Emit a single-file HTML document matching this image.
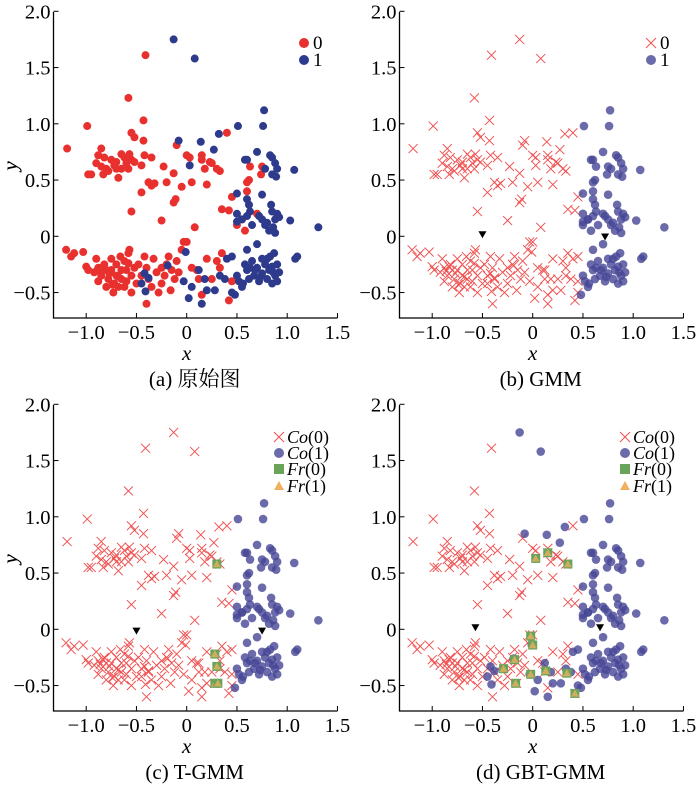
<!DOCTYPE html>
<html><head><meta charset="utf-8">
<style>
body{margin:0;background:#fff;}
svg, svg text{font-family:"Liberation Serif","Noto Serif CJK SC",serif;}
svg{display:block;}
</style></head>
<body>
<svg id="fig" width="700" height="786" viewBox="0 0 700 786" xmlns="http://www.w3.org/2000/svg" font-family="Liberation Serif, Noto Serif CJK SC, serif"></svg>
<script>
const xTicks=[-1.0,-0.5,0,0.5,1.0,1.5];
const xTickLabels=["\u22121.0","\u22120.5","0","0.5","1.0","1.5"];
const yTicks=[-0.5,0,0.5,1.0,1.5,2.0];
const yTickLabels=["\u22120.5","0","0.5","1.0","1.5","2.0"];
const class0X=[-0.41,-0.58,-0.99,-1.19,-0.43,-0.55,-0.52,-0.43,0.40,-0.10,-0.85,-0.88,-0.82,-0.90,-0.85,-0.80,-0.78,-0.95,-0.98,-0.83,-0.75,-0.70,-0.65,-0.62,-0.60,-0.57,-0.55,-0.52,-0.58,-0.65,-0.70,-0.68,-0.72,-0.45,-0.42,-0.35,-0.23,-0.20,-0.13,-0.38,-0.35,-0.32,-0.45,-0.13,-0.11,-0.05,-0.55,-0.25,0.00,0.03,0.05,0.15,0.18,0.20,0.15,0.25,0.23,0.30,0.33,0.35,0.42,0.45,0.60,0.62,0.60,0.63,0.75,0.74,0.55,0.50,0.58,0.70,0.08,0.00,-0.03,-1.20,-1.12,-1.15,-1.03,-1.00,-0.98,-0.90,-0.88,-0.85,-0.88,-0.82,-0.80,-0.78,-0.75,-0.75,-0.72,-0.70,-0.70,-0.68,-0.65,-0.65,-0.62,-0.60,-0.60,-0.58,-0.57,-0.55,-0.55,-0.52,-0.50,-0.48,-0.45,-0.42,-0.40,-0.38,-0.35,-0.33,-0.30,-0.28,-0.25,-0.25,-0.22,-0.20,-0.18,-0.16,-0.15,-0.12,-0.10,-0.08,-0.05,-0.40,-0.62,-0.80,-0.92,-0.73,-0.66,0.05,0.10,0.15,0.20,0.25,0.30,0.33,0.35,0.42,0.45,0.12,-0.77,-0.83,-0.68,-0.58,-0.86,-0.74];
const class0Y=[1.61,1.23,0.98,0.78,1.03,0.92,0.88,0.85,0.92,0.81,0.78,0.72,0.70,0.65,0.62,0.60,0.58,0.55,0.55,0.55,0.68,0.66,0.73,0.70,0.65,0.73,0.68,0.66,0.60,0.60,0.60,0.52,0.63,0.63,0.72,0.70,0.62,0.48,0.56,0.48,0.45,0.47,0.39,0.30,0.33,0.44,0.22,0.14,0.72,0.70,0.48,0.72,0.60,0.46,0.68,0.65,0.66,0.60,0.58,0.24,0.23,0.35,0.48,0.50,0.40,0.62,0.62,0.55,0.15,0.10,0.05,0.20,0.08,-0.05,-0.05,-0.12,-0.15,-0.18,-0.14,-0.27,-0.30,-0.20,-0.28,-0.35,-0.40,-0.25,-0.30,-0.38,-0.20,-0.30,-0.42,-0.35,-0.25,-0.45,-0.30,-0.38,-0.22,-0.40,-0.30,-0.15,-0.12,-0.35,-0.50,-0.28,-0.42,-0.25,-0.35,-0.18,-0.28,-0.38,-0.45,-0.20,-0.32,-0.50,-0.42,-0.28,-0.35,-0.25,-0.18,-0.48,-0.30,-0.38,-0.22,-0.32,-0.12,-0.60,-0.45,-0.45,-0.32,-0.50,-0.18,-0.28,-0.30,-0.52,-0.20,-0.38,-0.22,-0.28,-0.15,-0.57,-0.40,-0.38,-0.33,-0.27,-0.36,-0.24,-0.31,-0.43];
const class1X=[-0.13,0.08,-0.08,0.03,0.14,0.27,0.32,0.51,0.77,0.76,0.70,0.58,0.60,0.78,0.83,0.85,0.88,0.90,0.85,1.07,0.89,0.50,0.60,0.62,0.75,0.50,0.55,0.60,0.63,0.50,0.72,0.75,0.78,0.80,0.84,0.85,0.88,0.90,0.92,0.86,0.82,0.88,0.65,1.03,1.31,0.60,0.70,-0.01,-0.19,-0.42,-0.38,-0.45,-0.41,-0.03,0.02,0.05,0.12,0.15,0.18,0.20,0.28,0.33,0.38,0.40,0.45,0.45,0.48,0.50,0.52,0.55,0.58,0.60,0.62,0.65,0.67,0.70,0.72,0.75,0.75,0.78,0.80,0.82,0.83,0.85,0.85,0.87,0.88,0.90,0.92,0.90,1.08,1.10,0.56,0.63,0.68,0.73,0.80,0.86];
const class1Y=[1.75,1.58,0.85,0.63,0.84,0.77,0.91,0.98,1.12,0.98,0.75,0.68,0.68,0.60,0.72,0.70,0.65,0.60,0.55,0.59,0.53,0.38,0.33,0.28,0.37,0.20,0.15,0.18,0.22,0.13,0.18,0.15,0.10,0.12,0.28,0.22,0.15,0.20,0.17,0.08,0.05,0.03,0.10,0.14,0.08,-0.12,-0.07,-0.14,-0.26,-0.33,-0.37,-0.42,-0.49,-0.40,-0.55,-0.45,-0.30,-0.60,-0.38,-0.48,-0.48,-0.35,-0.38,-0.20,-0.18,-0.50,-0.52,-0.35,-0.40,-0.45,-0.25,-0.30,-0.38,-0.22,-0.35,-0.28,-0.40,-0.20,-0.33,-0.25,-0.38,-0.30,-0.18,-0.42,-0.27,-0.15,-0.35,-0.25,-0.32,-0.40,-0.20,-0.18,-0.42,-0.28,-0.30,-0.36,-0.20,-0.32];
const gmmSplitX=0.45;
const centersBX=[-0.50,0.72], centersBY=[0.00,-0.02];
const centersCX=[-0.50,0.75], centersCY=[-0.03,-0.03];
const centersDX=[-0.57,0.67], centersDY=[0.00,0.00];
const fringeCX=[0.30,0.28,0.30,0.28,0.31];
const fringeCY=[0.58,-0.22,-0.33,-0.48,-0.48];
const fringeDX=[0.03,0.15,0.35,-0.02,0.00,-0.18,-0.29,-0.17,-0.02,0.13,0.34,0.42];
const fringeDY=[0.63,0.68,0.58,-0.06,-0.14,-0.27,-0.35,-0.48,-0.40,-0.37,-0.39,-0.57];

const NS="http://www.w3.org/2000/svg";
const FONT="'Liberation Serif', 'Noto Serif CJK SC', serif";
const svg=document.getElementById('fig');
function mk(tag,attrs,parent){const e=document.createElementNS(NS,tag);for(const k in attrs)e.setAttribute(k,attrs[k]);if(tag==='text')e.setAttribute('font-family',FONT);(parent||svg).appendChild(e);return e;}
const panels=[{id:'a',ox:0,oy:0,cap:'(a) 原始图'},{id:'b',ox:346,oy:0,cap:'(b) GMM'},{id:'c',ox:0,oy:393,cap:'(c) T-GMM'},{id:'d',ox:346,oy:393,cap:'(d) GBT-GMM'}];
const RED='#e8302e',NAVY='#2e3a8c',LRED='#f05050',LBLUE='rgba(70,70,150,0.8)',GREEN='#6aa35a',ORANGE='#f0b060';
function cross(g,x,y,s,col){mk('path',{d:`M${x-s},${y-s}L${x+s},${y+s}M${x-s},${y+s}L${x+s},${y-s}`,stroke:col,'stroke-width':1,fill:'none'},g);}
function tri(g,x,y,s,col){mk('path',{d:`M${x},${y-s}L${x+s},${y+s*0.8}L${x-s},${y+s*0.8}Z`,fill:col},g);}
function sq(g,x,y,s,col){mk('rect',{x:x-s,y:y-s,width:2*s,height:2*s,fill:col},g);}
function down(g,x,y){mk('path',{d:`M${x-4},${y-5}L${x+4},${y-5}L${x},${y+2}Z`,fill:'#000'},g);}
panels.forEach(p=>{
  const g=mk('g',{});
  
  
  const L=53.5+p.ox,B=318+p.oy,T=12+p.oy,R=337.5+p.ox;
  const sx=v=>186.7+p.ox+v*100.5, sy=v=>236.3+p.oy-v*112.5;
  const ax=mk('path',{d:`M${L},${T}L${L},${B}L${R},${B}`,stroke:'#000','stroke-width':1.3,fill:'none'},g);
  
  
  xTicks.forEach((v,i)=>{const x=sx(v);mk('line',{x1:x,x2:x,y1:B,y2:B-5,stroke:'#000'},g);
    const t=mk('text',{x:x,y:B+21,'text-anchor':'middle','font-size':20.5},g);t.textContent=xTickLabels[i];
    });
  yTicks.forEach((v,i)=>{const y=sy(v);mk('line',{x1:L,x2:L+5,y1:y,y2:y,stroke:'#000'},g);
    const t=mk('text',{x:L-3,y:y+7,'text-anchor':'end','font-size':20.5},g);t.textContent=yTickLabels[i];
    });
  const xl=mk('text',{x:sx(0),y:B+42,'text-anchor':'middle','font-size':21,'font-style':'italic'},g);xl.textContent='x';
  
  const yl=mk('text',{x:0,y:0,'text-anchor':'middle','font-size':21,'font-style':'italic',transform:`translate(17,${166+p.oy}) rotate(-90)`},g);yl.textContent='y';
  
  const cp=mk('text',{x:sx(0)+8,y:B+68,'text-anchor':'middle','font-size':21},g);cp.textContent=p.cap;
  
  const mg=mk('g',{},g);
  
  
  if(p.id==='a'){
    class0X.forEach((v,i)=>mk('circle',{cx:sx(v),cy:sy(class0Y[i]),r:4,fill:RED},mg));
    class1X.forEach((v,i)=>mk('circle',{cx:sx(v),cy:sy(class1Y[i]),r:4,fill:NAVY},mg));
  } else {
    const all=[];
    class0X.forEach((v,i)=>all.push([v,class0Y[i],0]));
    class1X.forEach((v,i)=>all.push([v,class1Y[i],1]));
    all.forEach(([x,y,t])=>{
      let lab = (p.id==='d') ? ((x>gmmSplitX)?1:t) : (x>gmmSplitX?1:0);
      if(lab===0) cross(mg,sx(x),sy(y),4.5,LRED); else mk('circle',{cx:sx(x),cy:sy(y),r:4.3,fill:LBLUE},mg);
    });
    const cx=p.id==='b'?centersBX:p.id==='c'?centersCX:centersDX;
    const cy=p.id==='b'?centersBY:p.id==='c'?centersCY:centersDY;
    cx.forEach((v,i)=>down(mg,sx(v),sy(cy[i])));
    if(p.id!=='b'){
      const fx=p.id==='c'?fringeCX:fringeDX, fy=p.id==='c'?fringeCY:fringeDY;
      fx.forEach((v,i)=>{sq(mg,sx(v),sy(fy[i]),4.5,GREEN);tri(mg,sx(v),sy(fy[i]),4,'rgba(240,176,96,0.75)');});
    }
  }
  const lg=mk('g',{},g);
  
  
  if(p.id==='a'){
    mk('circle',{cx:304,cy:43,r:5,fill:RED},lg);mk('circle',{cx:304,cy:60,r:5,fill:NAVY},lg);
    let t=mk('text',{x:313,y:49,'font-size':19},lg);t.textContent='0';
    t=mk('text',{x:313,y:66,'font-size':19},lg);t.textContent='1';
  } else if(p.id==='b'){
    cross(lg,651,43,5,LRED);mk('circle',{cx:651,cy:60,r:5,fill:LBLUE},lg);
    let t=mk('text',{x:660,y:49,'font-size':19},lg);t.textContent='0';
    t=mk('text',{x:660,y:66,'font-size':19},lg);t.textContent='1';
  } else {
    const lx=279+p.ox, ys=[437,453,469,486];
    cross(lg,lx,ys[0],5,LRED);
    mk('circle',{cx:lx,cy:ys[1],r:5,fill:LBLUE},lg);
    sq(lg,lx,ys[2],5,GREEN);
    tri(lg,lx,ys[3],5,ORANGE);
    const names=[['Co','(0)'],['Co','(1)'],['Fr','(0)'],['Fr','(1)']];
    names.forEach((n,i)=>{const t=mk('text',{x:lx+8,y:ys[i]+6,'font-size':18},lg);
      const a=mk('tspan',{'font-style':'italic'},t);a.textContent=n[0];
      const b=mk('tspan',{},t);b.textContent=n[1];});
  }
});
</script>
</body></html>
